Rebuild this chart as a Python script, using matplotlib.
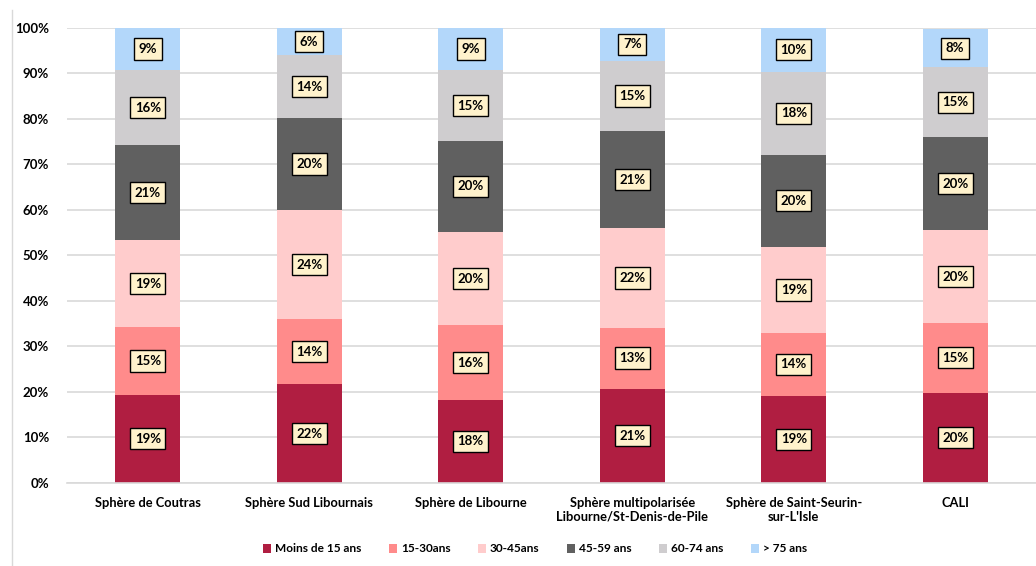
import matplotlib
matplotlib.use('Agg')
import matplotlib.pyplot as plt
import numpy as np

# Age structure per sphere (shares in %)
categories = ['Sphère de Coutras', 'Sphère Sud Libournais', 'Sphère de Libourne',
              'Sphère multipolarisée\nLibourne/St-Denis-de-Pile',
              'Sphère de Saint-Seurin-\nsur-L\'Isle', 'CALI']
age_groups = ['Moins de 15 ans', '15-30ans', '30-45ans', '45-59 ans', '60-74 ans', '> 75 ans']

moins_15 = [19.3, 21.6, 18.2, 20.7, 19.1, 19.8]
age_15_30 = [14.9, 14.4, 16.4, 13.4, 13.8, 15.3]
age_30_45 = [19.1, 23.9, 20.4, 21.8, 18.9, 20.4]
age_45_59 = [20.9, 20.3, 20.2, 21.4, 20.3, 20.4]
age_60_74 = [16.4, 13.7, 15.4, 15.4, 18.2, 15.4]
plus_75 = [9.4, 6.1, 9.4, 7.3, 9.7, 8.4]

series = [moins_15, age_15_30, age_30_45, age_45_59, age_60_74, plus_75]
colors = ['#B01E41', '#FF8B8B', '#FFCCCC', '#606060', '#CFCDCF', '#B3D7FA']
yticks = [0, 10, 20, 30, 40, 50, 60, 70, 80, 90, 100]

plt.rcParams['font.family'] = ['Lato', 'DejaVu Sans']

fig = plt.figure(figsize=(10.36, 5.66), dpi=100)
ax = fig.add_axes([67 / 1036, 1 - 482.7 / 566, 1 - 67 / 1036, (482.7 - 27.7) / 566])

x = np.arange(len(categories))
bottom = np.zeros(len(categories))
handles = []
for vals, col, name in zip(series, colors, age_groups):
    vals = np.array(vals)
    b = ax.bar(x, vals, bottom=bottom, width=0.40, color=col, label=name, zorder=2)
    handles.append(b)
    for xi, v, bt in zip(x, vals, bottom):
        ax.text(xi, bt + v / 2, f'{int(round(v))}%', ha='center', va='center',
                fontsize=9.5, fontweight='bold', color='black', zorder=4,
                bbox=dict(boxstyle='square,pad=0.35', facecolor='#FFF2CC',
                          edgecolor='black', linewidth=1))
    bottom += vals

ax.set_xlim(-0.5, len(categories) - 0.5)
ax.set_ylim(0, 100)
ax.set_yticks(yticks)
ax.set_yticklabels([f'{t}%' for t in yticks], fontsize=9.5, fontweight='bold')
ax.set_xticks(x)
ax.set_xticklabels(categories, fontsize=9.3, fontweight='bold')
ax.tick_params(axis='both', length=0)
ax.tick_params(axis='y', pad=13)
ax.tick_params(axis='x', pad=10)
ax.yaxis.grid(True, color='#D9D9D9', linewidth=1.2, zorder=0)
ax.set_axisbelow(True)
for s in ['top', 'right', 'left']:
    ax.spines[s].set_visible(False)
ax.spines['bottom'].set_color('#D9D9D9')
ax.spines['bottom'].set_linewidth(1.2)

fig.legend(handles=handles, labels=age_groups, loc='center', bbox_to_anchor=(535 / 1036, 1 - 549 / 566),
           ncol=6, frameon=False, handlelength=0.7, handleheight=0.7, handletextpad=0.3,
           columnspacing=2.3, prop={'size': 8.6, 'weight': 'bold'})

# chart border on the left
fig.add_artist(plt.Line2D([12 / 1036, 12 / 1036], [0, 1 - 10 / 566], color='#D9D9D9', linewidth=1))

fig.savefig('out.png', dpi=100)
